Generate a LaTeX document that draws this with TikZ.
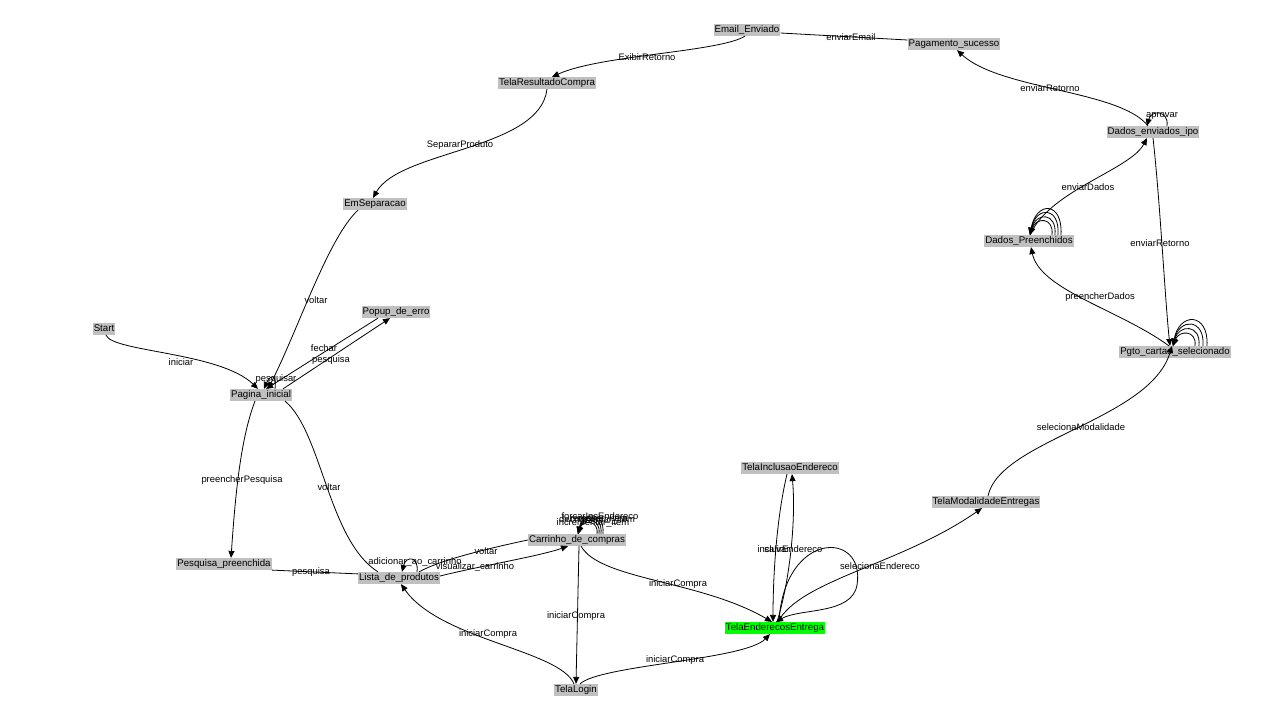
\documentclass[tikz,border=0pt]{standalone}
\usepackage{fontspec}
\setmainfont{Liberation Sans}
\usetikzlibrary{arrows.meta}
\definecolor{stategray}{HTML}{C0C0C0}
\definecolor{activegreen}{HTML}{00FF00}
\begin{document}
\begin{tikzpicture}[x=1pt,y=-1pt,
  state/.style={fill=stategray, inner xsep=1pt, inner ysep=1pt,
    text height=7.5pt, text depth=2.3pt, font=\fontsize{9.7}{11}\selectfont},
  active/.style={state, fill=activegreen},
  lbl/.style={inner sep=0pt, font=\fontsize{9.4}{11}\selectfont},
  tr/.style={line width=0.8pt, -{Triangle[length=7pt,width=6pt]}},
  ln/.style={line width=0.8pt}]
\useasboundingbox[fill=white] (0,0) rectangle (1280,720);

% states
\node[state] (email) at (747,30) {Email\_Enviado};
\node[state] (pagok) at (954,44) {Pagamento\_sucesso};
\node[state] (tres) at (547,83) {TelaResultadoCompra};
\node[state] (denv) at (1153,132) {Dados\_enviados\_ipo};
\node[state] (emsep) at (375,204) {EmSeparacao};
\node[state] (dpre) at (1029,241) {Dados\_Preenchidos};
\node[state] (popup) at (396,312) {Popup\_de\_erro};
\node[state] (start) at (104,329) {Start};
\node[state] (pgto) at (1175,352) {Pgto\_cartao\_selecionado};
\node[state] (pag) at (261,395) {Pagina\_inicial};
\node[state] (incl) at (790,468) {TelaInclusaoEndereco};
\node[state] (modal) at (986,502) {TelaModalidadeEntregas};
\node[state] (carr) at (577,540) {Carrinho\_de\_compras};
\node[state] (pesq) at (224,564) {Pesquisa\_preenchida};
\node[state] (lista) at (399,578) {Lista\_de\_produtos};
\node[active] (ender) at (775,628) {TelaEnderecosEntrega};
\node[state] (login) at (576,690) {TelaLogin};

% top of the cycle
\draw[ln] ([yshift=-3pt]email.east) -- ([yshift=4pt]pagok.west);
\draw[tr] ([xshift=-2pt]email.south) .. controls (720,52) and (600,55) .. ([xshift=5pt]tres.north);
\draw[tr] (tres.south) .. controls (540,150) and (400,150) .. ([xshift=-2pt]emsep.north);
\draw[tr] ([xshift=-5pt]denv.north) .. controls (1120,90) and (1000,90) .. ([xshift=3pt]pagok.south);

% home page
\draw[tr] ([xshift=2pt]start.south) .. controls (112,352) and (220,352) .. ([xshift=-3pt]pag.north);
\draw[tr] ([xshift=14pt]pag.north) .. controls +(2,-16) and +(6,-14) .. ([xshift=3pt]pag.north);
\draw[tr] ([xshift=22pt]pag.north) -- ([xshift=-6pt]popup.south);
\draw[tr] ([xshift=-18pt]popup.south) -- ([xshift=5pt]pag.north);
\draw[tr] ([xshift=-17pt]emsep.south) .. controls (328,238) and (298,330) .. ([xshift=7pt]pag.north);
\draw[tr] ([xshift=-6pt]pag.south) .. controls (240,440) and (235,500) .. ([xshift=7pt]pesq.north);
\draw[ln] ([xshift=24pt]pag.south) .. controls (322,432) and (328,540) .. ([xshift=-21pt]lista.north);

% product list and cart
\draw[ln] (pesq.south east) -- ([yshift=-2pt]lista.north west);
\draw[tr] ([xshift=18pt]lista.north) .. controls +(2,-16) and +(4,-16) .. ([xshift=3pt]lista.north);
\draw[tr] ([yshift=2pt]lista.east) .. controls (480,566) and (540,556) .. ([xshift=-9pt]carr.south);
\draw[ln] (carr.west) .. controls (490,548) and (440,560) .. ([xshift=20pt]lista.north);
\foreach \s/\h in {20/14,22/17,24/20,26/23}
  \draw[tr] ([xshift=\s pt]carr.north) .. controls +(2,-\h) and +(5,-\h) .. ([xshift=1pt]carr.north);
\draw[tr] ([xshift=2pt]carr.south) -- (login.north);
\draw[tr] ([xshift=4pt]carr.south) .. controls (600,580) and (700,580) .. ([xshift=-3pt]ender.north);
\draw[tr] ([xshift=-2pt]login.north) .. controls (560,650) and (440,640) .. ([xshift=2pt]lista.south);
\draw[tr] ([xshift=4pt]login.north) .. controls (600,665) and (745,660) .. ([xshift=-5pt]ender.south);

% delivery addresses
\draw[tr] ([xshift=-3pt]incl.south) .. controls (776,520) and (773,580) .. ([xshift=-2pt]ender.north);
\draw[tr] ([xshift=2pt]ender.north) .. controls (790,580) and (796,520) .. ([xshift=2pt]incl.south);
\draw[tr] ([xshift=4pt]ender.north) .. controls (784,530) and (866,530) .. (857,585)
  .. controls (852,615) and (800,608) .. ([xshift=1pt]ender.north);
\draw[tr] ([xshift=3pt]ender.north) .. controls (800,580) and (900,565) .. ([xshift=-4pt]modal.south);
\draw[tr] ([xshift=2pt]modal.north) .. controls (1000,440) and (1150,420) .. ([xshift=-3pt]pgto.north);

% card payment
\foreach \s/\h in {20/16,24/22,28/28,32/34}
  \draw[tr] ([xshift=\s pt]pgto.north) .. controls +(2,-\h) and +(6,-\h) .. ([xshift=-2pt]pgto.north);
\draw[tr] ([xshift=-6pt]pgto.north) .. controls (1120,310) and (1040,290) .. ([xshift=2pt]dpre.south);
\foreach \s/\h in {23/18,26/23,29/29,32/34}
  \draw[tr] ([xshift=\s pt]dpre.north) .. controls +(2,-\h) and +(6,-\h) .. ([xshift=1pt]dpre.north);
\draw[tr] ([xshift=1pt]dpre.north) .. controls (1050,190) and (1130,170) .. ([xshift=-6pt]denv.south);
\draw[tr] ([xshift=14pt]denv.north) .. controls +(2,-16) and +(4,-16) .. ([xshift=-6pt]denv.north);
\draw[tr] (denv.south) .. controls (1160,200) and (1165,300) .. ([xshift=-5pt]pgto.north);

% transition labels
\node[lbl] (l1) at (647,57) {ExibirRetorno};
\node[lbl] (l2) at (851,37) {enviarEmail};
\node[lbl] (l3) at (1050,88) {enviarRetorno};
\node[lbl] (l4) at (1162,116) {aprovar};
\node[lbl] (l5) at (460,145) {SepararProduto};
\node[lbl] (l6) at (1088,187) {enviarDados};
\node[lbl] (l7) at (1160,243) {enviarRetorno};
\node[lbl] (l8) at (316,300) {voltar};
\node[lbl] (l9) at (1100,297) {preencherDados};
\node[lbl] (l10) at (324,348) {fechar};
\node[lbl] (l11) at (331,360) {pesquisa};
\node[lbl] (l12) at (181,362) {iniciar};
\node[lbl] (l13) at (276,379) {pesquisar};
\node[lbl] (l14) at (1081,427) {selecionaModalidade};
\node[lbl] (l15) at (242,480) {preencherPesquisa};
\node[lbl] (l16) at (329,487) {voltar};
\node[lbl] (l17) at (600,516) {forcarIncEndereco};
\node[lbl] (l18) at (597,520) {decrementar\_item};
\node[lbl] (l19) at (599,519) {remover\_item};
\node[lbl] (l20) at (593,523) {incrementar\_item};
\node[lbl] (l21) at (415,562) {adicionar\_ao\_carrinho};
\node[lbl] (l22) at (486,551) {voltar};
\node[lbl] (l23) at (475,567) {visualizar\_carrinho};
\node[lbl] (l24) at (311,572) {pesquisa};
\node[lbl] (l25) at (790,549) {incluirEndereco};
\node[lbl] (l26) at (777,549) {salvar};
\node[lbl] (l27) at (880,566) {selecionaEndereco};
\node[lbl] (l28) at (678,584) {iniciarCompra};
\node[lbl] (l29) at (576,616) {iniciarCompra};
\node[lbl] (l30) at (488,634) {iniciarCompra};
\node[lbl] (l31) at (675,660) {iniciarCompra};
\end{tikzpicture}
\end{document}
